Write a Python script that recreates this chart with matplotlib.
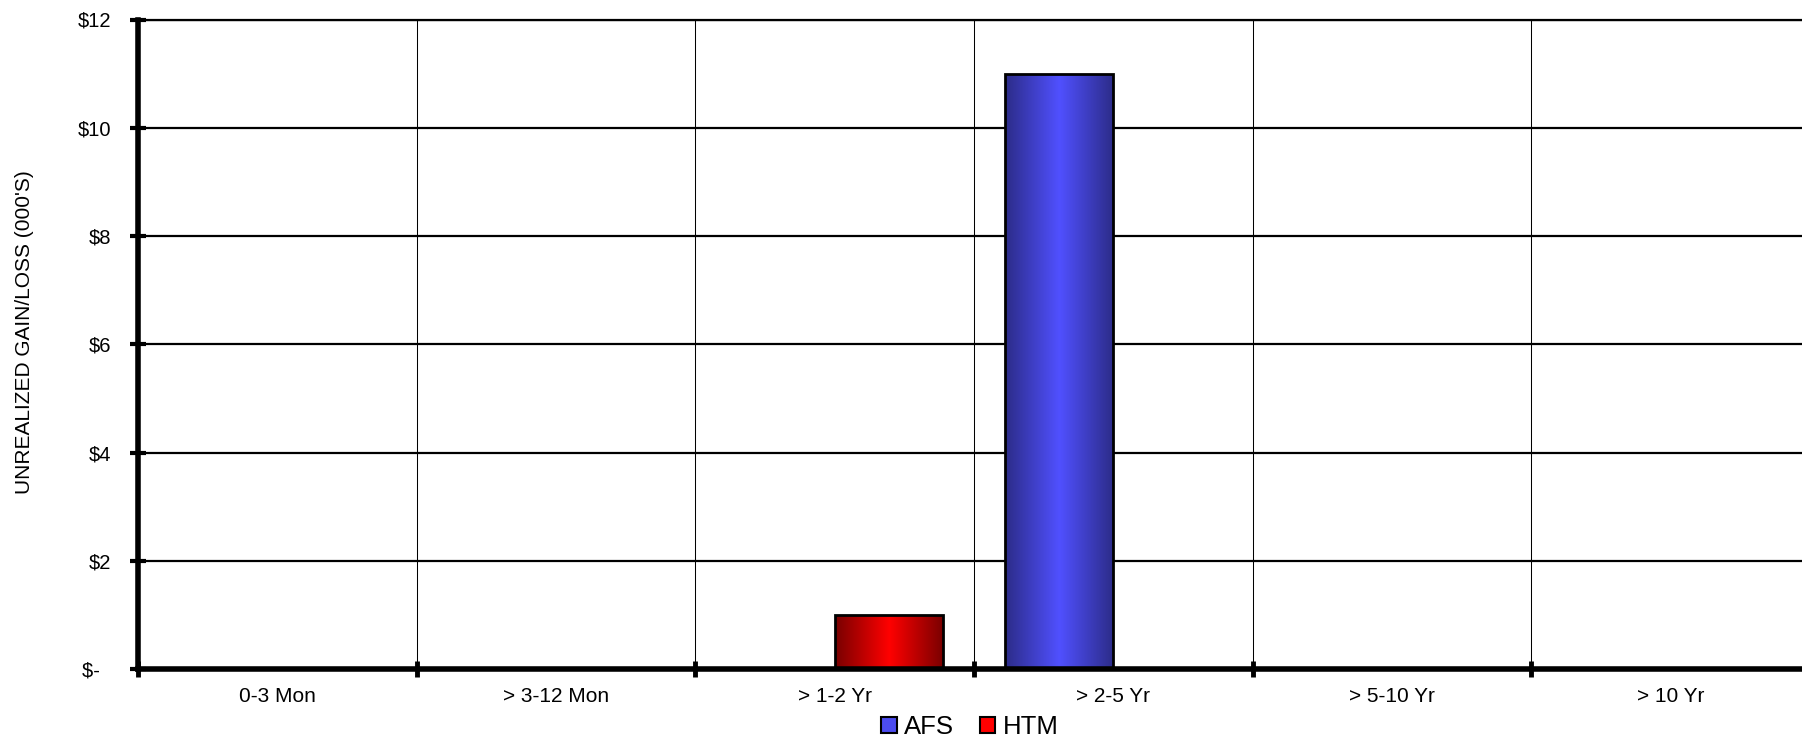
import numpy as np
import matplotlib
matplotlib.use("Agg")
import matplotlib.pyplot as plt
from matplotlib.colors import LinearSegmentedColormap
from matplotlib.patches import Patch

categories = ["0-3 Mon", "> 3-12 Mon", "> 1-2 Yr", "> 2-5 Yr", "> 5-10 Yr", "> 10 Yr"]
afs_values = [0, 0, 0, 11, 0, 0]
htm_values = [0, 0, 1, 0, 0, 0]
y_ticks = [0, 2, 4, 6, 8, 10, 12]
y_tick_labels = ["$-  ", "$2", "$4", "$6", "$8", "$10", "$12"]
series_names = ["AFS", "HTM"]

plt.rcParams["font.family"] = ["Liberation Sans", "DejaVu Sans"]

W, H = 1802, 738
fig = plt.figure(figsize=(W / 100, H / 100), dpi=100)
ax = fig.add_axes([138 / W, (H - 669) / H, 1672 / W, (669 - 19.5) / H])

x = np.arange(len(categories))
bw = 0.39
series = [
    (afs_values, -bw / 2, "#2C2C88", "#5050FF", "#4C4CF0"),
    (htm_values, bw / 2, "#780000", "#FF0000", "#FF0000"),
]

for vals, off, dark, bright, legc in series:
    bars = ax.bar(x + off, vals, width=bw, color=bright, edgecolor="none", zorder=3)
    cmap = LinearSegmentedColormap.from_list("g", [(0, dark), (0.5, bright), (1, dark)])
    grad = np.linspace(0, 1, 256).reshape(1, -1)
    for rect in bars:
        h = rect.get_height()
        if h <= 0:
            continue
        x0 = rect.get_x()
        im = ax.imshow(grad, cmap=cmap, extent=[x0, x0 + rect.get_width(), 0, h],
                       aspect="auto", zorder=3.5, interpolation="bilinear")
        im.set_clip_path(rect)
    ax.bar(x + off, vals, width=bw, fill=False, edgecolor="black", linewidth=2.0, zorder=4)

ax.set_xlim(-0.5, len(categories) - 0.5)
ax.set_ylim(0, 12)

# y axis
ax.set_yticks(y_ticks)
ax.set_yticklabels(y_tick_labels, fontsize=14.5)
ax.tick_params(axis="y", direction="inout", length=12, width=3, pad=13, color="black")

# x axis: labels at centers, tick marks at category boundaries
ax.set_xticks(x)
ax.set_xticklabels(categories, fontsize=15)
ax.tick_params(axis="x", which="major", length=0, pad=13)
ax.set_xticks(np.arange(-0.5, len(categories)), minor=True)
ax.tick_params(axis="x", which="minor", direction="inout", length=12, width=3.5, color="black")

# grids
ax.yaxis.grid(True, color="black", linewidth=1.6, zorder=1)
ax.xaxis.grid(True, which="minor", color="black", linewidth=0.75, zorder=1)
ax.xaxis.grid(False, which="major")
ax.set_axisbelow(True)

for s in ["left", "bottom"]:
    ax.spines[s].set_linewidth(4.0)
    ax.spines[s].set_zorder(6)
ax.spines["top"].set_linewidth(1.6)
ax.spines["right"].set_visible(False)

fig.text(24.7 / W, 1 - 332 / H, "UNREALIZED GAIN/LOSS (000'S)", rotation=90,
         ha="center", va="center", fontsize=15)

handles = [Patch(facecolor=series[0][4], edgecolor="black", linewidth=1.5),
           Patch(facecolor=series[1][4], edgecolor="black", linewidth=1.5)]
fig.legend(handles, series_names, loc="center", bbox_to_anchor=(970 / W, 1 - 727 / H),
           ncol=2, frameon=False, fontsize=18.5, handlelength=0.6, handleheight=0.6,
           handletextpad=0.3, columnspacing=1.0, borderpad=0, borderaxespad=0)

fig.savefig("out.png", dpi=100)
